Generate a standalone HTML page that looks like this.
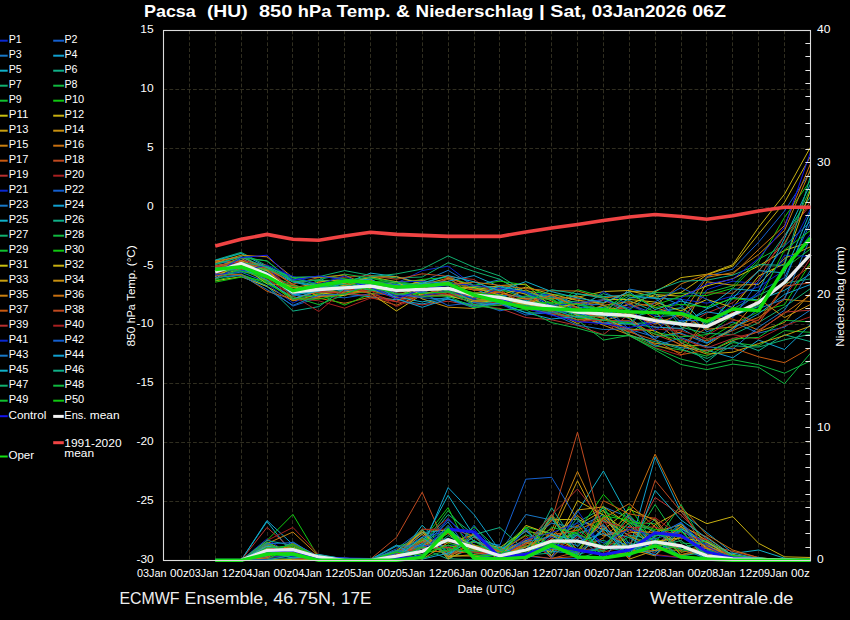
<!DOCTYPE html>
<html><head><meta charset="utf-8"><style>html,body{margin:0;padding:0;background:#000;width:850px;height:620px;overflow:hidden}</style></head>
<body>
<svg width="850" height="620" viewBox="0 0 850 620" style="display:block;font-family:'Liberation Sans', sans-serif">
<rect x="0" y="0" width="850" height="620" fill="#000"/>
<path d="M189.50,30.50 L189.50,560.30 M215.50,30.50 L215.50,560.30 M241.50,30.50 L241.50,560.30 M267.50,30.50 L267.50,560.30 M292.50,30.50 L292.50,560.30 M318.50,30.50 L318.50,560.30 M344.50,30.50 L344.50,560.30 M370.50,30.50 L370.50,560.30 M396.50,30.50 L396.50,560.30 M422.50,30.50 L422.50,560.30 M448.50,30.50 L448.50,560.30 M474.50,30.50 L474.50,560.30 M499.50,30.50 L499.50,560.30 M525.50,30.50 L525.50,560.30 M551.50,30.50 L551.50,560.30 M577.50,30.50 L577.50,560.30 M603.50,30.50 L603.50,560.30 M629.50,30.50 L629.50,560.30 M655.50,30.50 L655.50,560.30 M681.50,30.50 L681.50,560.30 M706.50,30.50 L706.50,560.30 M732.50,30.50 L732.50,560.30 M758.50,30.50 L758.50,560.30 M784.50,30.50 L784.50,560.30 M163.50,89.50 L810.38,89.50 M163.50,148.50 L810.38,148.50 M163.50,207.50 L810.38,207.50 M163.50,266.50 L810.38,266.50 M163.50,324.50 L810.38,324.50 M163.50,383.50 L810.38,383.50 M163.50,442.50 L810.38,442.50 M163.50,501.50 L810.38,501.50" stroke="#302e20" stroke-width="1" stroke-dasharray="3.8 2.1" fill="none"/>
<path d="M215.2,260.2 L241.1,256.9 L267.0,268.1 L292.9,290.4 L318.8,287.5 L344.6,288.2 L370.5,282.6 L396.4,283.2 L422.2,270.6 L448.1,266.1 L474.0,285.9 L499.9,294.3 L525.8,306.0 L551.6,310.5 L577.5,314.0 L603.4,299.4 L629.2,313.4 L655.1,324.0 L681.0,320.7 L706.9,289.7 L732.8,281.1 L758.6,283.8 L784.5,260.2 L810.4,209.2" stroke="#0a28d0" stroke-width="1" fill="none"/>
<path d="M215.2,277.9 L241.1,274.6 L267.0,286.7 L292.9,306.1 L318.8,297.6 L344.6,281.2 L370.5,279.5 L396.4,296.2 L422.2,292.5 L448.1,295.3 L474.0,302.2 L499.9,310.8 L525.8,306.1 L551.6,306.7 L577.5,314.5 L603.4,315.8 L629.2,304.2 L655.1,313.8 L681.0,307.8 L706.9,276.4 L732.8,269.1 L758.6,242.2 L784.5,211.0 L810.4,171.4" stroke="#1560d0" stroke-width="1" fill="none"/>
<path d="M215.2,263.2 L241.1,261.9 L267.0,271.3 L292.9,295.2 L318.8,296.5 L344.6,294.2 L370.5,289.8 L396.4,289.7 L422.2,281.5 L448.1,270.4 L474.0,285.7 L499.9,279.7 L525.8,292.6 L551.6,309.0 L577.5,317.8 L603.4,314.1 L629.2,289.0 L655.1,293.9 L681.0,305.4 L706.9,331.8 L732.8,321.9 L758.6,333.1 L784.5,327.1 L810.4,310.0" stroke="#1878c8" stroke-width="1" fill="none"/>
<path d="M215.2,267.4 L241.1,268.9 L267.0,266.8 L292.9,277.2 L318.8,277.0 L344.6,294.1 L370.5,296.8 L396.4,299.8 L422.2,304.0 L448.1,298.5 L474.0,305.3 L499.9,303.6 L525.8,312.8 L551.6,313.1 L577.5,307.3 L603.4,307.6 L629.2,318.6 L655.1,339.9 L681.0,347.7 L706.9,350.2 L732.8,357.8 L758.6,340.1 L784.5,349.5 L810.4,324.6" stroke="#10a0d0" stroke-width="1" fill="none"/>
<path d="M215.2,271.2 L241.1,258.6 L267.0,269.6 L292.9,282.0 L318.8,287.7 L344.6,283.5 L370.5,273.1 L396.4,276.6 L422.2,283.6 L448.1,275.7 L474.0,289.1 L499.9,298.2 L525.8,300.4 L551.6,307.7 L577.5,315.2 L603.4,323.9 L629.2,323.8 L655.1,322.3 L681.0,324.9 L706.9,308.9 L732.8,297.6 L758.6,299.9 L784.5,290.3 L810.4,274.0" stroke="#10b0c8" stroke-width="1" fill="none"/>
<path d="M215.2,266.4 L241.1,260.3 L267.0,277.2 L292.9,292.9 L318.8,292.8 L344.6,290.2 L370.5,281.0 L396.4,289.2 L422.2,283.4 L448.1,290.9 L474.0,286.3 L499.9,286.7 L525.8,292.4 L551.6,298.8 L577.5,316.2 L603.4,316.1 L629.2,333.1 L655.1,316.7 L681.0,315.0 L706.9,330.1 L732.8,293.8 L758.6,271.2 L784.5,235.5 L810.4,196.8" stroke="#10b088" stroke-width="1" fill="none"/>
<path d="M215.2,260.0 L241.1,252.3 L267.0,265.8 L292.9,279.5 L318.8,276.7 L344.6,270.6 L370.5,275.4 L396.4,277.9 L422.2,277.0 L448.1,262.7 L474.0,271.4 L499.9,279.3 L525.8,294.5 L551.6,302.8 L577.5,301.1 L603.4,315.4 L629.2,317.5 L655.1,311.6 L681.0,307.7 L706.9,324.3 L732.8,308.9 L758.6,295.2 L784.5,283.2 L810.4,278.9" stroke="#10b070" stroke-width="1" fill="none"/>
<path d="M215.2,274.4 L241.1,271.4 L267.0,275.9 L292.9,284.1 L318.8,294.2 L344.6,287.3 L370.5,284.2 L396.4,285.6 L422.2,282.2 L448.1,281.9 L474.0,287.6 L499.9,288.8 L525.8,299.0 L551.6,304.8 L577.5,310.3 L603.4,313.3 L629.2,298.3 L655.1,292.5 L681.0,293.3 L706.9,292.9 L732.8,285.8 L758.6,259.2 L784.5,245.4 L810.4,188.5" stroke="#10b840" stroke-width="1" fill="none"/>
<path d="M215.2,273.5 L241.1,262.8 L267.0,280.1 L292.9,292.1 L318.8,280.0 L344.6,285.9 L370.5,281.3 L396.4,284.7 L422.2,289.4 L448.1,283.5 L474.0,288.4 L499.9,291.1 L525.8,290.8 L551.6,294.5 L577.5,296.0 L603.4,305.9 L629.2,334.8 L655.1,346.0 L681.0,350.0 L706.9,356.1 L732.8,342.6 L758.6,345.9 L784.5,330.6 L810.4,332.3" stroke="#10c030" stroke-width="1" fill="none"/>
<path d="M215.2,261.0 L241.1,253.5 L267.0,273.0 L292.9,295.5 L318.8,280.7 L344.6,279.8 L370.5,278.1 L396.4,283.9 L422.2,279.4 L448.1,277.4 L474.0,285.3 L499.9,281.2 L525.8,284.9 L551.6,298.7 L577.5,312.7 L603.4,311.8 L629.2,317.2 L655.1,318.3 L681.0,322.5 L706.9,339.6 L732.8,324.3 L758.6,311.8 L784.5,304.7 L810.4,263.0" stroke="#10c810" stroke-width="1" fill="none"/>
<path d="M215.2,280.8 L241.1,276.7 L267.0,286.5 L292.9,300.8 L318.8,294.2 L344.6,291.8 L370.5,290.4 L396.4,288.4 L422.2,280.8 L448.1,295.1 L474.0,295.5 L499.9,303.8 L525.8,307.2 L551.6,311.1 L577.5,323.7 L603.4,311.9 L629.2,304.2 L655.1,294.6 L681.0,296.2 L706.9,285.9 L732.8,278.7 L758.6,266.0 L784.5,250.4 L810.4,241.9" stroke="#c8c010" stroke-width="1" fill="none"/>
<path d="M215.2,276.0 L241.1,269.2 L267.0,280.9 L292.9,298.6 L318.8,290.8 L344.6,285.3 L370.5,276.8 L396.4,281.7 L422.2,280.6 L448.1,285.4 L474.0,290.0 L499.9,285.5 L525.8,284.1 L551.6,306.9 L577.5,297.2 L603.4,291.5 L629.2,290.5 L655.1,297.3 L681.0,292.5 L706.9,274.8 L732.8,266.1 L758.6,234.1 L784.5,202.4 L810.4,156.5" stroke="#c8b010" stroke-width="1" fill="none"/>
<path d="M215.2,266.1 L241.1,260.8 L267.0,273.6 L292.9,291.6 L318.8,284.7 L344.6,283.3 L370.5,277.3 L396.4,276.6 L422.2,284.5 L448.1,278.3 L474.0,285.9 L499.9,288.2 L525.8,294.2 L551.6,309.6 L577.5,312.8 L603.4,305.5 L629.2,317.9 L655.1,336.9 L681.0,332.2 L706.9,281.8 L732.8,285.2 L758.6,284.4 L784.5,258.4 L810.4,246.8" stroke="#c8a010" stroke-width="1" fill="none"/>
<path d="M215.2,276.7 L241.1,261.7 L267.0,277.7 L292.9,287.8 L318.8,283.1 L344.6,284.2 L370.5,281.7 L396.4,285.0 L422.2,298.9 L448.1,307.2 L474.0,308.5 L499.9,299.6 L525.8,302.1 L551.6,312.1 L577.5,319.7 L603.4,320.6 L629.2,313.9 L655.1,321.1 L681.0,343.1 L706.9,352.5 L732.8,340.6 L758.6,331.6 L784.5,322.4 L810.4,293.1" stroke="#c89010" stroke-width="1" fill="none"/>
<path d="M215.2,267.9 L241.1,257.6 L267.0,278.1 L292.9,287.4 L318.8,291.8 L344.6,292.3 L370.5,285.1 L396.4,299.5 L422.2,297.1 L448.1,287.7 L474.0,292.7 L499.9,292.7 L525.8,298.5 L551.6,308.9 L577.5,302.4 L603.4,305.0 L629.2,314.9 L655.1,323.9 L681.0,314.3 L706.9,329.3 L732.8,327.0 L758.6,317.4 L784.5,299.5 L810.4,301.5" stroke="#c88010" stroke-width="1" fill="none"/>
<path d="M215.2,273.0 L241.1,268.7 L267.0,281.2 L292.9,300.6 L318.8,298.2 L344.6,303.3 L370.5,297.0 L396.4,305.3 L422.2,294.2 L448.1,277.3 L474.0,297.1 L499.9,298.8 L525.8,308.7 L551.6,314.2 L577.5,316.2 L603.4,316.9 L629.2,330.5 L655.1,344.7 L681.0,352.9 L706.9,317.7 L732.8,319.0 L758.6,330.3 L784.5,313.3 L810.4,295.1" stroke="#c87010" stroke-width="1" fill="none"/>
<path d="M215.2,275.7 L241.1,264.6 L267.0,274.7 L292.9,290.4 L318.8,287.9 L344.6,293.9 L370.5,291.1 L396.4,289.9 L422.2,288.3 L448.1,279.2 L474.0,290.3 L499.9,289.5 L525.8,307.5 L551.6,307.4 L577.5,311.4 L603.4,318.6 L629.2,302.7 L655.1,318.6 L681.0,334.4 L706.9,340.9 L732.8,330.6 L758.6,319.9 L784.5,285.9 L810.4,265.9" stroke="#c85a10" stroke-width="1" fill="none"/>
<path d="M215.2,261.6 L241.1,261.3 L267.0,267.1 L292.9,284.1 L318.8,277.5 L344.6,277.2 L370.5,275.6 L396.4,279.3 L422.2,273.8 L448.1,276.3 L474.0,289.8 L499.9,291.9 L525.8,299.6 L551.6,297.8 L577.5,298.8 L603.4,311.4 L629.2,307.1 L655.1,303.2 L681.0,318.2 L706.9,292.9 L732.8,293.3 L758.6,270.8 L784.5,242.9 L810.4,201.2" stroke="#c04a20" stroke-width="1" fill="none"/>
<path d="M215.2,274.7 L241.1,260.2 L267.0,265.4 L292.9,291.8 L318.8,282.2 L344.6,291.8 L370.5,279.5 L396.4,292.9 L422.2,294.0 L448.1,292.5 L474.0,301.0 L499.9,305.6 L525.8,302.6 L551.6,310.1 L577.5,303.6 L603.4,300.2 L629.2,310.7 L655.1,327.1 L681.0,329.2 L706.9,313.0 L732.8,302.7 L758.6,279.5 L784.5,235.7 L810.4,205.4" stroke="#b83030" stroke-width="1" fill="none"/>
<path d="M215.2,279.1 L241.1,269.6 L267.0,277.5 L292.9,298.6 L318.8,300.8 L344.6,308.2 L370.5,298.1 L396.4,301.6 L422.2,293.8 L448.1,276.6 L474.0,279.5 L499.9,297.0 L525.8,306.7 L551.6,302.0 L577.5,308.6 L603.4,318.3 L629.2,335.7 L655.1,347.7 L681.0,355.5 L706.9,335.5 L732.8,320.4 L758.6,320.2 L784.5,297.7 L810.4,258.5" stroke="#a82020" stroke-width="1" fill="none"/>
<path d="M215.2,278.7 L241.1,264.9 L267.0,283.8 L292.9,303.1 L318.8,290.3 L344.6,280.8 L370.5,286.7 L396.4,281.9 L422.2,281.3 L448.1,283.3 L474.0,285.3 L499.9,288.8 L525.8,292.8 L551.6,295.2 L577.5,311.6 L603.4,291.4 L629.2,305.2 L655.1,315.8 L681.0,299.3 L706.9,303.2 L732.8,296.1 L758.6,286.8 L784.5,270.3 L810.4,234.2" stroke="#0a28d0" stroke-width="1" fill="none"/>
<path d="M215.2,268.6 L241.1,262.4 L267.0,274.2 L292.9,295.1 L318.8,295.8 L344.6,297.8 L370.5,293.7 L396.4,294.7 L422.2,291.8 L448.1,286.9 L474.0,299.9 L499.9,301.8 L525.8,308.8 L551.6,312.7 L577.5,321.5 L603.4,322.9 L629.2,321.3 L655.1,339.4 L681.0,320.3 L706.9,320.5 L732.8,313.7 L758.6,291.8 L784.5,277.7 L810.4,223.3" stroke="#1560d0" stroke-width="1" fill="none"/>
<path d="M215.2,275.9 L241.1,272.1 L267.0,282.1 L292.9,297.0 L318.8,285.7 L344.6,290.1 L370.5,286.0 L396.4,284.4 L422.2,290.0 L448.1,291.3 L474.0,298.2 L499.9,295.3 L525.8,296.4 L551.6,294.9 L577.5,304.9 L603.4,304.5 L629.2,329.3 L655.1,337.0 L681.0,333.2 L706.9,343.4 L732.8,329.8 L758.6,308.6 L784.5,299.0 L810.4,237.7" stroke="#1878c8" stroke-width="1" fill="none"/>
<path d="M215.2,260.5 L241.1,253.3 L267.0,267.2 L292.9,281.5 L318.8,286.7 L344.6,290.9 L370.5,287.4 L396.4,284.4 L422.2,284.2 L448.1,281.3 L474.0,275.6 L499.9,286.7 L525.8,298.2 L551.6,296.2 L577.5,312.0 L603.4,323.1 L629.2,323.8 L655.1,327.1 L681.0,328.4 L706.9,342.7 L732.8,328.2 L758.6,313.7 L784.5,294.4 L810.4,284.5" stroke="#10a0d0" stroke-width="1" fill="none"/>
<path d="M215.2,269.7 L241.1,262.8 L267.0,273.2 L292.9,291.7 L318.8,284.1 L344.6,286.8 L370.5,289.4 L396.4,297.0 L422.2,301.9 L448.1,297.4 L474.0,296.3 L499.9,285.9 L525.8,291.8 L551.6,306.8 L577.5,293.9 L603.4,296.5 L629.2,295.1 L655.1,298.5 L681.0,299.0 L706.9,326.9 L732.8,298.4 L758.6,270.6 L784.5,272.9 L810.4,211.8" stroke="#10b0c8" stroke-width="1" fill="none"/>
<path d="M215.2,273.9 L241.1,274.2 L267.0,285.8 L292.9,311.1 L318.8,306.6 L344.6,288.5 L370.5,286.2 L396.4,294.5 L422.2,292.4 L448.1,292.3 L474.0,300.9 L499.9,295.6 L525.8,302.0 L551.6,303.9 L577.5,306.8 L603.4,293.7 L629.2,300.5 L655.1,311.7 L681.0,341.9 L706.9,362.1 L732.8,341.0 L758.6,350.7 L784.5,334.7 L810.4,341.6" stroke="#10b088" stroke-width="1" fill="none"/>
<path d="M215.2,263.5 L241.1,256.8 L267.0,261.1 L292.9,281.3 L318.8,280.3 L344.6,280.8 L370.5,276.7 L396.4,273.9 L422.2,269.0 L448.1,255.9 L474.0,267.3 L499.9,276.0 L525.8,292.3 L551.6,297.7 L577.5,304.8 L603.4,310.5 L629.2,295.9 L655.1,293.5 L681.0,327.2 L706.9,333.4 L732.8,334.5 L758.6,322.5 L784.5,306.9 L810.4,288.6" stroke="#10b070" stroke-width="1" fill="none"/>
<path d="M215.2,270.3 L241.1,257.8 L267.0,260.8 L292.9,281.8 L318.8,279.6 L344.6,274.1 L370.5,278.0 L396.4,282.0 L422.2,287.6 L448.1,296.7 L474.0,298.5 L499.9,302.9 L525.8,306.2 L551.6,312.1 L577.5,320.0 L603.4,340.1 L629.2,335.3 L655.1,350.0 L681.0,364.5 L706.9,369.6 L732.8,364.1 L758.6,367.3 L784.5,383.7 L810.4,353.3" stroke="#10b840" stroke-width="1" fill="none"/>
<path d="M215.2,280.4 L241.1,274.5 L267.0,283.4 L292.9,296.8 L318.8,304.6 L344.6,294.9 L370.5,291.0 L396.4,290.2 L422.2,286.4 L448.1,287.7 L474.0,292.8 L499.9,296.7 L525.8,303.0 L551.6,306.6 L577.5,289.7 L603.4,296.5 L629.2,311.1 L655.1,332.4 L681.0,336.8 L706.9,334.6 L732.8,315.4 L758.6,305.1 L784.5,268.4 L810.4,249.0" stroke="#10c030" stroke-width="1" fill="none"/>
<path d="M215.2,282.2 L241.1,277.1 L267.0,281.0 L292.9,298.7 L318.8,294.6 L344.6,305.1 L370.5,293.9 L396.4,290.1 L422.2,286.2 L448.1,289.3 L474.0,295.0 L499.9,299.2 L525.8,304.7 L551.6,303.1 L577.5,318.0 L603.4,320.0 L629.2,322.7 L655.1,305.1 L681.0,296.1 L706.9,295.5 L732.8,288.2 L758.6,261.9 L784.5,217.4 L810.4,180.7" stroke="#10c810" stroke-width="1" fill="none"/>
<path d="M215.2,276.3 L241.1,264.7 L267.0,283.8 L292.9,285.6 L318.8,296.5 L344.6,295.4 L370.5,288.4 L396.4,281.5 L422.2,295.9 L448.1,295.7 L474.0,302.1 L499.9,300.9 L525.8,304.6 L551.6,309.1 L577.5,303.1 L603.4,299.7 L629.2,299.4 L655.1,302.1 L681.0,310.8 L706.9,299.5 L732.8,307.4 L758.6,276.0 L784.5,263.7 L810.4,190.2" stroke="#c8c010" stroke-width="1" fill="none"/>
<path d="M215.2,278.9 L241.1,260.6 L267.0,270.8 L292.9,289.5 L318.8,284.8 L344.6,288.7 L370.5,293.1 L396.4,311.0 L422.2,294.5 L448.1,287.9 L474.0,287.5 L499.9,295.2 L525.8,287.1 L551.6,294.2 L577.5,300.4 L603.4,303.3 L629.2,291.7 L655.1,291.8 L681.0,277.6 L706.9,274.3 L732.8,264.7 L758.6,227.3 L784.5,194.2 L810.4,147.3" stroke="#c8b010" stroke-width="1" fill="none"/>
<path d="M215.2,265.1 L241.1,265.3 L267.0,269.7 L292.9,294.6 L318.8,281.9 L344.6,279.3 L370.5,285.3 L396.4,285.3 L422.2,286.9 L448.1,283.4 L474.0,295.8 L499.9,300.8 L525.8,304.4 L551.6,295.1 L577.5,307.5 L603.4,318.2 L629.2,329.0 L655.1,330.7 L681.0,345.3 L706.9,354.1 L732.8,352.2 L758.6,343.6 L784.5,335.5 L810.4,326.2" stroke="#c8a010" stroke-width="1" fill="none"/>
<path d="M215.2,262.8 L241.1,255.2 L267.0,256.8 L292.9,277.6 L318.8,277.3 L344.6,275.0 L370.5,286.8 L396.4,295.8 L422.2,286.6 L448.1,281.9 L474.0,298.4 L499.9,301.0 L525.8,289.8 L551.6,301.0 L577.5,315.2 L603.4,325.2 L629.2,334.8 L655.1,343.3 L681.0,345.7 L706.9,345.5 L732.8,328.3 L758.6,298.5 L784.5,317.6 L810.4,304.5" stroke="#c89010" stroke-width="1" fill="none"/>
<path d="M215.2,261.0 L241.1,256.8 L267.0,269.2 L292.9,298.9 L318.8,291.4 L344.6,285.8 L370.5,279.8 L396.4,294.6 L422.2,296.4 L448.1,290.5 L474.0,300.7 L499.9,300.7 L525.8,298.2 L551.6,299.0 L577.5,296.2 L603.4,305.3 L629.2,301.7 L655.1,307.4 L681.0,315.9 L706.9,277.4 L732.8,272.6 L758.6,254.4 L784.5,230.5 L810.4,169.9" stroke="#c88010" stroke-width="1" fill="none"/>
<path d="M215.2,273.8 L241.1,262.3 L267.0,268.0 L292.9,284.5 L318.8,295.8 L344.6,293.7 L370.5,287.2 L396.4,288.4 L422.2,286.9 L448.1,284.8 L474.0,282.1 L499.9,285.4 L525.8,288.6 L551.6,290.8 L577.5,291.0 L603.4,298.2 L629.2,294.6 L655.1,305.8 L681.0,283.9 L706.9,274.5 L732.8,274.4 L758.6,249.5 L784.5,225.6 L810.4,163.9" stroke="#c87010" stroke-width="1" fill="none"/>
<path d="M215.2,275.5 L241.1,274.3 L267.0,291.3 L292.9,299.3 L318.8,297.2 L344.6,294.2 L370.5,290.5 L396.4,297.8 L422.2,296.0 L448.1,294.9 L474.0,295.5 L499.9,292.0 L525.8,302.8 L551.6,295.2 L577.5,307.6 L603.4,323.0 L629.2,331.9 L655.1,340.2 L681.0,354.7 L706.9,350.1 L732.8,348.0 L758.6,356.8 L784.5,362.7 L810.4,347.9" stroke="#c85a10" stroke-width="1" fill="none"/>
<path d="M215.2,266.7 L241.1,264.9 L267.0,278.0 L292.9,285.0 L318.8,292.7 L344.6,287.3 L370.5,293.5 L396.4,301.5 L422.2,288.7 L448.1,294.8 L474.0,293.0 L499.9,299.1 L525.8,306.7 L551.6,310.7 L577.5,319.7 L603.4,320.6 L629.2,320.7 L655.1,334.4 L681.0,344.4 L706.9,327.8 L732.8,312.0 L758.6,323.8 L784.5,286.1 L810.4,282.9" stroke="#c04a20" stroke-width="1" fill="none"/>
<path d="M215.2,266.0 L241.1,262.0 L267.0,268.4 L292.9,292.6 L318.8,291.6 L344.6,293.4 L370.5,295.6 L396.4,301.8 L422.2,304.9 L448.1,301.2 L474.0,305.7 L499.9,308.4 L525.8,317.6 L551.6,319.8 L577.5,325.5 L603.4,334.7 L629.2,314.1 L655.1,310.7 L681.0,338.9 L706.9,347.9 L732.8,338.4 L758.6,331.6 L784.5,312.1 L810.4,310.1" stroke="#b83030" stroke-width="1" fill="none"/>
<path d="M215.2,273.7 L241.1,265.7 L267.0,278.9 L292.9,295.5 L318.8,311.5 L344.6,289.7 L370.5,290.5 L396.4,306.6 L422.2,295.2 L448.1,293.0 L474.0,304.2 L499.9,301.8 L525.8,309.0 L551.6,313.0 L577.5,321.9 L603.4,319.2 L629.2,330.9 L655.1,329.1 L681.0,330.8 L706.9,339.0 L732.8,334.6 L758.6,339.0 L784.5,325.8 L810.4,316.8" stroke="#a82020" stroke-width="1" fill="none"/>
<path d="M215.2,275.1 L241.1,271.0 L267.0,265.1 L292.9,276.4 L318.8,284.3 L344.6,275.9 L370.5,287.2 L396.4,295.7 L422.2,296.2 L448.1,290.5 L474.0,298.9 L499.9,288.0 L525.8,292.0 L551.6,305.6 L577.5,302.6 L603.4,299.8 L629.2,308.1 L655.1,330.8 L681.0,311.2 L706.9,321.8 L732.8,305.7 L758.6,294.5 L784.5,255.2 L810.4,256.4" stroke="#0a28d0" stroke-width="1" fill="none"/>
<path d="M215.2,268.5 L241.1,270.6 L267.0,274.5 L292.9,294.2 L318.8,290.8 L344.6,288.6 L370.5,282.0 L396.4,284.6 L422.2,292.8 L448.1,305.5 L474.0,302.6 L499.9,303.9 L525.8,315.0 L551.6,312.2 L577.5,311.6 L603.4,314.2 L629.2,324.8 L655.1,301.8 L681.0,287.7 L706.9,299.3 L732.8,317.8 L758.6,281.4 L784.5,245.9 L810.4,221.8" stroke="#1560d0" stroke-width="1" fill="none"/>
<path d="M215.2,277.3 L241.1,275.5 L267.0,289.5 L292.9,305.3 L318.8,295.2 L344.6,294.2 L370.5,283.4 L396.4,293.7 L422.2,297.8 L448.1,299.1 L474.0,307.9 L499.9,303.1 L525.8,307.6 L551.6,314.2 L577.5,325.1 L603.4,329.5 L629.2,328.8 L655.1,346.2 L681.0,337.6 L706.9,346.9 L732.8,348.8 L758.6,327.2 L784.5,310.2 L810.4,270.5" stroke="#1878c8" stroke-width="1" fill="none"/>
<path d="M215.2,271.7 L241.1,268.0 L267.0,280.0 L292.9,299.2 L318.8,290.0 L344.6,288.4 L370.5,281.1 L396.4,298.7 L422.2,307.3 L448.1,298.9 L474.0,306.4 L499.9,302.6 L525.8,312.7 L551.6,319.0 L577.5,316.4 L603.4,320.0 L629.2,297.8 L655.1,297.7 L681.0,322.4 L706.9,311.9 L732.8,315.8 L758.6,306.5 L784.5,281.5 L810.4,217.4" stroke="#10a0d0" stroke-width="1" fill="none"/>
<path d="M215.2,269.4 L241.1,267.2 L267.0,274.3 L292.9,294.9 L318.8,291.2 L344.6,282.2 L370.5,278.9 L396.4,292.1 L422.2,283.0 L448.1,275.6 L474.0,281.8 L499.9,290.9 L525.8,281.6 L551.6,291.6 L577.5,298.1 L603.4,302.4 L629.2,291.9 L655.1,309.6 L681.0,301.0 L706.9,308.0 L732.8,288.9 L758.6,290.9 L784.5,238.6 L810.4,184.1" stroke="#10b0c8" stroke-width="1" fill="none"/>
<path d="M215.2,264.6 L241.1,256.8 L267.0,267.7 L292.9,280.4 L318.8,285.9 L344.6,286.9 L370.5,285.7 L396.4,289.2 L422.2,290.5 L448.1,283.9 L474.0,304.7 L499.9,300.2 L525.8,301.9 L551.6,289.7 L577.5,293.8 L603.4,298.1 L629.2,309.7 L655.1,290.7 L681.0,281.2 L706.9,280.2 L732.8,275.1 L758.6,264.6 L784.5,265.3 L810.4,176.3" stroke="#10b088" stroke-width="1" fill="none"/>
<path d="M215.2,271.1 L241.1,262.5 L267.0,266.5 L292.9,277.8 L318.8,285.1 L344.6,284.5 L370.5,290.4 L396.4,289.0 L422.2,288.8 L448.1,288.4 L474.0,293.6 L499.9,302.6 L525.8,305.4 L551.6,309.4 L577.5,317.6 L603.4,315.5 L629.2,335.7 L655.1,341.6 L681.0,348.9 L706.9,358.5 L732.8,345.8 L758.6,347.1 L784.5,339.8 L810.4,334.2" stroke="#10b070" stroke-width="1" fill="none"/>
<path d="M215.2,279.6 L241.1,268.8 L267.0,269.1 L292.9,277.8 L318.8,276.5 L344.6,278.8 L370.5,281.3 L396.4,282.4 L422.2,285.4 L448.1,291.0 L474.0,304.9 L499.9,309.4 L525.8,309.8 L551.6,322.6 L577.5,328.2 L603.4,335.2 L629.2,335.8 L655.1,348.4 L681.0,359.1 L706.9,365.2 L732.8,359.7 L758.6,364.7 L784.5,373.2 L810.4,360.9" stroke="#10b840" stroke-width="1" fill="none"/>
<path d="M215.2,270.6 L241.1,271.1 L267.0,278.0 L292.9,286.2 L318.8,289.9 L344.6,281.7 L370.5,289.6 L396.4,289.8 L422.2,296.2 L448.1,296.0 L474.0,307.7 L499.9,304.9 L525.8,295.8 L551.6,299.8 L577.5,314.6 L603.4,320.3 L629.2,323.5 L655.1,334.0 L681.0,340.1 L706.9,353.0 L732.8,339.1 L758.6,337.4 L784.5,320.3 L810.4,321.9" stroke="#10c030" stroke-width="1" fill="none"/>
<path d="M215.2,272.0 L241.1,263.7 L267.0,283.0 L292.9,298.8 L318.8,299.2 L344.6,293.7 L370.5,286.2 L396.4,294.1 L422.2,293.4 L448.1,291.8 L474.0,292.9 L499.9,295.3 L525.8,303.7 L551.6,302.4 L577.5,304.3 L603.4,308.9 L629.2,293.7 L655.1,307.4 L681.0,304.3 L706.9,306.9 L732.8,298.6 L758.6,300.9 L784.5,249.9 L810.4,230.5" stroke="#10c810" stroke-width="1" fill="none"/>
<path d="M215.2,560.3 L241.1,560.3 L267.0,538.9 L292.9,556.9 L318.8,557.5 L344.6,559.6 L370.5,560.0 L396.4,558.2 L422.2,532.1 L448.1,553.2 L474.0,528.9 L499.9,558.4 L525.8,555.0 L551.6,536.8 L577.5,535.7 L603.4,547.5 L629.2,542.3 L655.1,555.3 L681.0,557.7 L706.9,546.0 L732.8,559.6 L758.6,558.4 L784.5,560.3 L810.4,560.3" stroke="#0a28d0" stroke-width="1" fill="none"/>
<path d="M215.2,560.3 L241.1,560.3 L267.0,545.7 L292.9,559.0 L318.8,559.4 L344.6,559.7 L370.5,560.1 L396.4,548.9 L422.2,529.7 L448.1,559.0 L474.0,525.2 L499.9,558.0 L525.8,556.0 L551.6,558.7 L577.5,558.6 L603.4,526.0 L629.2,550.2 L655.1,541.1 L681.0,549.0 L706.9,558.5 L732.8,559.0 L758.6,558.4 L784.5,560.3 L810.4,560.3" stroke="#1560d0" stroke-width="1" fill="none"/>
<path d="M215.2,560.3 L241.1,560.3 L267.0,555.6 L292.9,550.3 L318.8,558.2 L344.6,559.1 L370.5,559.0 L396.4,560.3 L422.2,544.9 L448.1,538.2 L474.0,551.2 L499.9,552.4 L525.8,514.5 L551.6,520.0 L577.5,540.0 L603.4,506.9 L629.2,517.5 L655.1,532.5 L681.0,546.8 L706.9,559.3 L732.8,555.1 L758.6,559.1 L784.5,560.3 L810.4,560.3" stroke="#1878c8" stroke-width="1" fill="none"/>
<path d="M215.2,560.3 L241.1,560.3 L267.0,520.5 L292.9,544.6 L318.8,556.9 L344.6,559.8 L370.5,560.0 L396.4,552.2 L422.2,532.7 L448.1,530.0 L474.0,546.7 L499.9,549.5 L525.8,549.8 L551.6,541.4 L577.5,533.3 L603.4,525.6 L629.2,550.1 L655.1,457.1 L681.0,512.0 L706.9,532.7 L732.8,553.0 L758.6,558.7 L784.5,560.3 L810.4,560.3" stroke="#10a0d0" stroke-width="1" fill="none"/>
<path d="M215.2,560.3 L241.1,560.3 L267.0,521.5 L292.9,554.4 L318.8,557.4 L344.6,558.9 L370.5,559.9 L396.4,559.9 L422.2,525.2 L448.1,552.8 L474.0,550.0 L499.9,551.0 L525.8,528.7 L551.6,556.7 L577.5,511.7 L603.4,471.0 L629.2,518.1 L655.1,547.3 L681.0,522.7 L706.9,548.5 L732.8,553.5 L758.6,550.0 L784.5,558.2 L810.4,560.3" stroke="#10b0c8" stroke-width="1" fill="none"/>
<path d="M215.2,560.3 L241.1,560.3 L267.0,559.8 L292.9,558.4 L318.8,556.2 L344.6,558.1 L370.5,560.2 L396.4,552.3 L422.2,546.9 L448.1,514.5 L474.0,534.6 L499.9,527.5 L525.8,551.0 L551.6,545.8 L577.5,522.2 L603.4,508.0 L629.2,543.8 L655.1,519.2 L681.0,549.8 L706.9,550.6 L732.8,555.6 L758.6,558.1 L784.5,560.3 L810.4,560.3" stroke="#10b088" stroke-width="1" fill="none"/>
<path d="M215.2,560.3 L241.1,560.3 L267.0,543.2 L292.9,557.8 L318.8,558.8 L344.6,559.4 L370.5,558.8 L396.4,555.8 L422.2,534.1 L448.1,558.7 L474.0,559.8 L499.9,550.3 L525.8,556.5 L551.6,514.6 L577.5,543.2 L603.4,540.5 L629.2,548.6 L655.1,545.6 L681.0,526.4 L706.9,557.9 L732.8,557.5 L758.6,558.5 L784.5,560.3 L810.4,560.3" stroke="#10b070" stroke-width="1" fill="none"/>
<path d="M215.2,560.3 L241.1,560.3 L267.0,555.0 L292.9,551.1 L318.8,556.5 L344.6,559.2 L370.5,559.7 L396.4,553.3 L422.2,548.0 L448.1,548.2 L474.0,553.0 L499.9,556.1 L525.8,558.0 L551.6,543.3 L577.5,534.6 L603.4,542.8 L629.2,546.2 L655.1,504.5 L681.0,543.0 L706.9,544.8 L732.8,559.7 L758.6,558.6 L784.5,560.3 L810.4,560.3" stroke="#10b840" stroke-width="1" fill="none"/>
<path d="M215.2,560.3 L241.1,560.3 L267.0,551.8 L292.9,550.2 L318.8,557.0 L344.6,558.6 L370.5,560.0 L396.4,557.4 L422.2,539.8 L448.1,554.3 L474.0,526.7 L499.9,551.3 L525.8,534.8 L551.6,543.5 L577.5,554.9 L603.4,511.5 L629.2,522.1 L655.1,523.8 L681.0,554.9 L706.9,548.0 L732.8,559.8 L758.6,558.3 L784.5,560.3 L810.4,560.3" stroke="#10c030" stroke-width="1" fill="none"/>
<path d="M215.2,560.3 L241.1,560.3 L267.0,540.4 L292.9,514.4 L318.8,557.6 L344.6,559.7 L370.5,559.3 L396.4,546.2 L422.2,540.8 L448.1,507.6 L474.0,560.1 L499.9,551.7 L525.8,528.1 L551.6,558.2 L577.5,528.2 L603.4,552.2 L629.2,506.5 L655.1,544.7 L681.0,528.9 L706.9,542.1 L732.8,557.8 L758.6,559.9 L784.5,560.3 L810.4,560.3" stroke="#10c810" stroke-width="1" fill="none"/>
<path d="M215.2,560.3 L241.1,560.3 L267.0,542.4 L292.9,553.9 L318.8,558.0 L344.6,559.9 L370.5,560.2 L396.4,552.3 L422.2,540.5 L448.1,547.5 L474.0,541.8 L499.9,548.0 L525.8,556.3 L551.6,519.7 L577.5,519.3 L603.4,529.7 L629.2,509.1 L655.1,520.4 L681.0,556.0 L706.9,558.6 L732.8,559.2 L758.6,559.4 L784.5,560.3 L810.4,560.3" stroke="#c8c010" stroke-width="1" fill="none"/>
<path d="M215.2,560.3 L241.1,560.3 L267.0,552.2 L292.9,546.9 L318.8,558.2 L344.6,559.4 L370.5,559.6 L396.4,557.3 L422.2,530.5 L448.1,557.4 L474.0,542.0 L499.9,547.5 L525.8,529.8 L551.6,555.6 L577.5,525.7 L603.4,510.2 L629.2,556.2 L655.1,524.7 L681.0,510.6 L706.9,523.7 L732.8,516.6 L758.6,543.3 L784.5,556.8 L810.4,557.5" stroke="#c8b010" stroke-width="1" fill="none"/>
<path d="M215.2,560.3 L241.1,560.3 L267.0,546.4 L292.9,549.1 L318.8,556.6 L344.6,558.8 L370.5,559.3 L396.4,554.4 L422.2,546.1 L448.1,531.8 L474.0,550.1 L499.9,556.0 L525.8,547.1 L551.6,534.7 L577.5,480.8 L603.4,531.0 L629.2,559.2 L655.1,550.2 L681.0,550.2 L706.9,546.0 L732.8,555.0 L758.6,560.2 L784.5,560.3 L810.4,560.3" stroke="#c8a010" stroke-width="1" fill="none"/>
<path d="M215.2,560.3 L241.1,560.3 L267.0,557.6 L292.9,555.2 L318.8,555.0 L344.6,559.2 L370.5,559.4 L396.4,554.5 L422.2,548.2 L448.1,533.4 L474.0,556.9 L499.9,551.3 L525.8,531.1 L551.6,535.8 L577.5,515.5 L603.4,536.0 L629.2,529.7 L655.1,546.1 L681.0,555.4 L706.9,551.1 L732.8,559.3 L758.6,559.1 L784.5,560.3 L810.4,560.3" stroke="#c89010" stroke-width="1" fill="none"/>
<path d="M215.2,560.3 L241.1,560.3 L267.0,543.6 L292.9,532.0 L318.8,556.1 L344.6,560.1 L370.5,560.2 L396.4,554.9 L422.2,534.4 L448.1,556.8 L474.0,554.5 L499.9,551.1 L525.8,559.7 L551.6,530.5 L577.5,471.4 L603.4,527.0 L629.2,549.0 L655.1,555.9 L681.0,531.5 L706.9,542.2 L732.8,556.8 L758.6,560.2 L784.5,560.3 L810.4,560.3" stroke="#c88010" stroke-width="1" fill="none"/>
<path d="M215.2,560.3 L241.1,560.3 L267.0,554.4 L292.9,550.7 L318.8,557.5 L344.6,558.2 L370.5,559.9 L396.4,556.4 L422.2,551.3 L448.1,551.6 L474.0,533.3 L499.9,551.8 L525.8,540.8 L551.6,529.2 L577.5,552.3 L603.4,537.8 L629.2,514.5 L655.1,454.1 L681.0,506.5 L706.9,534.8 L732.8,550.0 L758.6,557.7 L784.5,560.3 L810.4,560.3" stroke="#c87010" stroke-width="1" fill="none"/>
<path d="M215.2,560.3 L241.1,560.3 L267.0,551.7 L292.9,549.9 L318.8,558.2 L344.6,559.1 L370.5,559.5 L396.4,556.9 L422.2,556.7 L448.1,528.4 L474.0,535.9 L499.9,551.7 L525.8,555.2 L551.6,539.0 L577.5,525.3 L603.4,550.9 L629.2,517.4 L655.1,544.5 L681.0,527.3 L706.9,536.9 L732.8,555.9 L758.6,560.3 L784.5,560.3 L810.4,560.3" stroke="#c85a10" stroke-width="1" fill="none"/>
<path d="M215.2,560.3 L241.1,560.3 L267.0,556.7 L292.9,543.3 L318.8,556.2 L344.6,560.3 L370.5,559.1 L396.4,537.5 L422.2,492.2 L448.1,550.9 L474.0,537.1 L499.9,555.7 L525.8,555.2 L551.6,558.6 L577.5,551.8 L603.4,519.7 L629.2,559.2 L655.1,480.3 L681.0,511.6 L706.9,544.8 L732.8,551.4 L758.6,557.5 L784.5,560.3 L810.4,560.3" stroke="#c04a20" stroke-width="1" fill="none"/>
<path d="M215.2,560.3 L241.1,560.3 L267.0,527.4 L292.9,550.4 L318.8,556.1 L344.6,560.3 L370.5,559.5 L396.4,555.5 L422.2,546.2 L448.1,551.7 L474.0,549.4 L499.9,557.1 L525.8,538.0 L551.6,556.9 L577.5,536.6 L603.4,552.1 L629.2,545.6 L655.1,497.5 L681.0,515.0 L706.9,540.0 L732.8,556.9 L758.6,559.3 L784.5,560.3 L810.4,560.3" stroke="#b83030" stroke-width="1" fill="none"/>
<path d="M215.2,560.3 L241.1,560.3 L267.0,540.6 L292.9,527.4 L318.8,554.6 L344.6,560.3 L370.5,559.2 L396.4,559.5 L422.2,537.6 L448.1,518.5 L474.0,547.1 L499.9,548.2 L525.8,557.8 L551.6,536.8 L577.5,530.4 L603.4,556.2 L629.2,533.2 L655.1,554.5 L681.0,557.5 L706.9,543.5 L732.8,555.2 L758.6,558.7 L784.5,560.3 L810.4,560.3" stroke="#a82020" stroke-width="1" fill="none"/>
<path d="M215.2,560.3 L241.1,560.3 L267.0,557.0 L292.9,556.4 L318.8,557.2 L344.6,558.8 L370.5,559.2 L396.4,556.6 L422.2,550.5 L448.1,527.0 L474.0,556.2 L499.9,558.8 L525.8,529.2 L551.6,558.5 L577.5,510.4 L603.4,548.8 L629.2,548.0 L655.1,544.7 L681.0,528.8 L706.9,549.6 L732.8,556.0 L758.6,560.2 L784.5,560.3 L810.4,560.3" stroke="#0a28d0" stroke-width="1" fill="none"/>
<path d="M215.2,560.3 L241.1,560.3 L267.0,553.1 L292.9,554.6 L318.8,559.0 L344.6,558.5 L370.5,559.7 L396.4,553.4 L422.2,545.6 L448.1,545.7 L474.0,542.4 L499.9,545.0 L525.8,479.2 L551.6,477.3 L577.5,520.0 L603.4,548.0 L629.2,515.4 L655.1,547.2 L681.0,547.3 L706.9,543.5 L732.8,556.3 L758.6,558.6 L784.5,560.3 L810.4,560.3" stroke="#1560d0" stroke-width="1" fill="none"/>
<path d="M215.2,560.3 L241.1,560.3 L267.0,552.4 L292.9,558.0 L318.8,555.3 L344.6,559.9 L370.5,559.7 L396.4,551.9 L422.2,543.9 L448.1,519.7 L474.0,541.2 L499.9,550.5 L525.8,540.4 L551.6,523.2 L577.5,527.6 L603.4,514.5 L629.2,546.1 L655.1,552.3 L681.0,536.3 L706.9,552.7 L732.8,556.5 L758.6,558.8 L784.5,560.3 L810.4,560.3" stroke="#1878c8" stroke-width="1" fill="none"/>
<path d="M215.2,560.3 L241.1,560.3 L267.0,543.1 L292.9,556.1 L318.8,554.4 L344.6,559.1 L370.5,559.4 L396.4,554.8 L422.2,548.4 L448.1,487.6 L474.0,514.6 L499.9,550.8 L525.8,531.1 L551.6,551.4 L577.5,553.3 L603.4,529.8 L629.2,537.5 L655.1,550.9 L681.0,523.4 L706.9,556.4 L732.8,554.6 L758.6,559.6 L784.5,560.3 L810.4,560.3" stroke="#10a0d0" stroke-width="1" fill="none"/>
<path d="M215.2,560.3 L241.1,560.3 L267.0,551.4 L292.9,553.7 L318.8,558.6 L344.6,558.8 L370.5,559.7 L396.4,555.5 L422.2,543.6 L448.1,495.3 L474.0,535.7 L499.9,560.1 L525.8,546.3 L551.6,551.3 L577.5,535.0 L603.4,559.1 L629.2,525.7 L655.1,550.8 L681.0,528.7 L706.9,542.3 L732.8,556.0 L758.6,559.2 L784.5,560.3 L810.4,560.3" stroke="#10b0c8" stroke-width="1" fill="none"/>
<path d="M215.2,560.3 L241.1,560.3 L267.0,540.5 L292.9,545.4 L318.8,559.1 L344.6,559.8 L370.5,560.1 L396.4,559.5 L422.2,548.0 L448.1,559.1 L474.0,546.8 L499.9,549.6 L525.8,559.1 L551.6,507.7 L577.5,546.9 L603.4,520.3 L629.2,535.3 L655.1,539.0 L681.0,555.9 L706.9,552.1 L732.8,559.7 L758.6,559.0 L784.5,560.3 L810.4,560.3" stroke="#10b088" stroke-width="1" fill="none"/>
<path d="M215.2,560.3 L241.1,560.3 L267.0,547.5 L292.9,549.1 L318.8,560.3 L344.6,559.9 L370.5,559.9 L396.4,551.5 L422.2,556.2 L448.1,535.6 L474.0,549.6 L499.9,550.1 L525.8,544.6 L551.6,514.4 L577.5,559.2 L603.4,549.9 L629.2,522.5 L655.1,547.0 L681.0,540.5 L706.9,560.1 L732.8,558.1 L758.6,557.6 L784.5,560.3 L810.4,560.3" stroke="#10b070" stroke-width="1" fill="none"/>
<path d="M215.2,560.3 L241.1,560.3 L267.0,542.1 L292.9,556.9 L318.8,556.7 L344.6,559.8 L370.5,559.7 L396.4,558.0 L422.2,545.7 L448.1,510.6 L474.0,541.4 L499.9,549.2 L525.8,527.1 L551.6,533.4 L577.5,549.0 L603.4,551.2 L629.2,536.8 L655.1,543.3 L681.0,504.5 L706.9,549.3 L732.8,559.9 L758.6,558.5 L784.5,560.3 L810.4,560.3" stroke="#10b840" stroke-width="1" fill="none"/>
<path d="M215.2,560.3 L241.1,560.3 L267.0,559.5 L292.9,545.4 L318.8,558.1 L344.6,560.3 L370.5,558.8 L396.4,559.1 L422.2,540.2 L448.1,531.6 L474.0,544.9 L499.9,550.5 L525.8,558.0 L551.6,517.0 L577.5,554.2 L603.4,505.9 L629.2,551.2 L655.1,536.3 L681.0,529.7 L706.9,560.2 L732.8,557.0 L758.6,559.2 L784.5,560.3 L810.4,560.3" stroke="#10c030" stroke-width="1" fill="none"/>
<path d="M215.2,560.3 L241.1,560.3 L267.0,551.0 L292.9,558.7 L318.8,556.0 L344.6,560.1 L370.5,559.2 L396.4,553.6 L422.2,538.9 L448.1,543.0 L474.0,549.6 L499.9,553.3 L525.8,546.0 L551.6,540.4 L577.5,531.9 L603.4,494.4 L629.2,522.0 L655.1,537.8 L681.0,551.9 L706.9,547.8 L732.8,558.0 L758.6,559.8 L784.5,560.3 L810.4,560.3" stroke="#10c810" stroke-width="1" fill="none"/>
<path d="M215.2,560.3 L241.1,560.3 L267.0,548.2 L292.9,548.0 L318.8,557.0 L344.6,558.5 L370.5,560.3 L396.4,559.8 L422.2,555.8 L448.1,531.2 L474.0,546.9 L499.9,557.1 L525.8,525.4 L551.6,534.5 L577.5,551.0 L603.4,516.5 L629.2,548.3 L655.1,541.5 L681.0,537.8 L706.9,542.1 L732.8,557.6 L758.6,558.6 L784.5,560.3 L810.4,560.3" stroke="#c8c010" stroke-width="1" fill="none"/>
<path d="M215.2,560.3 L241.1,560.3 L267.0,558.9 L292.9,559.6 L318.8,559.8 L344.6,558.6 L370.5,559.1 L396.4,550.6 L422.2,532.4 L448.1,555.9 L474.0,556.0 L499.9,560.1 L525.8,542.9 L551.6,552.4 L577.5,500.7 L603.4,515.0 L629.2,532.4 L655.1,532.1 L681.0,524.7 L706.9,540.6 L732.8,555.1 L758.6,559.5 L784.5,560.3 L810.4,560.3" stroke="#c8b010" stroke-width="1" fill="none"/>
<path d="M215.2,560.3 L241.1,560.3 L267.0,554.9 L292.9,549.0 L318.8,557.4 L344.6,560.2 L370.5,559.8 L396.4,555.1 L422.2,530.2 L448.1,558.9 L474.0,545.5 L499.9,559.4 L525.8,542.4 L551.6,547.7 L577.5,510.0 L603.4,506.9 L629.2,524.5 L655.1,548.1 L681.0,526.0 L706.9,548.6 L732.8,554.7 L758.6,559.0 L784.5,560.3 L810.4,560.3" stroke="#c8a010" stroke-width="1" fill="none"/>
<path d="M215.2,560.3 L241.1,560.3 L267.0,544.8 L292.9,554.6 L318.8,558.0 L344.6,559.4 L370.5,558.9 L396.4,552.2 L422.2,559.3 L448.1,542.6 L474.0,534.8 L499.9,553.7 L525.8,540.6 L551.6,549.7 L577.5,550.2 L603.4,554.2 L629.2,553.3 L655.1,550.4 L681.0,546.3 L706.9,553.6 L732.8,558.2 L758.6,559.3 L784.5,560.3 L810.4,560.3" stroke="#c89010" stroke-width="1" fill="none"/>
<path d="M215.2,560.3 L241.1,560.3 L267.0,556.3 L292.9,544.0 L318.8,557.5 L344.6,558.6 L370.5,559.3 L396.4,556.7 L422.2,529.2 L448.1,530.8 L474.0,549.6 L499.9,551.3 L525.8,555.4 L551.6,515.5 L577.5,550.9 L603.4,518.6 L629.2,535.9 L655.1,547.8 L681.0,537.4 L706.9,546.4 L732.8,556.2 L758.6,559.1 L784.5,560.3 L810.4,560.3" stroke="#c88010" stroke-width="1" fill="none"/>
<path d="M215.2,560.3 L241.1,560.3 L267.0,557.7 L292.9,544.6 L318.8,558.3 L344.6,559.8 L370.5,558.7 L396.4,559.3 L422.2,541.2 L448.1,540.4 L474.0,545.1 L499.9,554.1 L525.8,546.7 L551.6,534.8 L577.5,530.2 L603.4,518.3 L629.2,503.7 L655.1,527.0 L681.0,554.8 L706.9,548.0 L732.8,555.2 L758.6,559.4 L784.5,560.3 L810.4,560.3" stroke="#c87010" stroke-width="1" fill="none"/>
<path d="M215.2,560.3 L241.1,560.3 L267.0,553.5 L292.9,552.2 L318.8,559.2 L344.6,559.7 L370.5,559.1 L396.4,560.0 L422.2,538.5 L448.1,555.5 L474.0,541.4 L499.9,551.2 L525.8,535.8 L551.6,558.2 L577.5,556.4 L603.4,500.7 L629.2,513.9 L655.1,518.4 L681.0,552.4 L706.9,547.2 L732.8,559.9 L758.6,559.0 L784.5,560.3 L810.4,560.3" stroke="#c85a10" stroke-width="1" fill="none"/>
<path d="M215.2,560.3 L241.1,560.3 L267.0,554.2 L292.9,548.3 L318.8,556.3 L344.6,559.1 L370.5,559.6 L396.4,555.9 L422.2,542.1 L448.1,553.9 L474.0,551.4 L499.9,554.0 L525.8,544.7 L551.6,520.8 L577.5,432.2 L603.4,535.0 L629.2,529.6 L655.1,533.3 L681.0,506.5 L706.9,555.7 L732.8,559.6 L758.6,559.1 L784.5,560.3 L810.4,560.3" stroke="#c04a20" stroke-width="1" fill="none"/>
<path d="M215.2,560.3 L241.1,560.3 L267.0,543.5 L292.9,558.7 L318.8,558.7 L344.6,558.4 L370.5,558.9 L396.4,554.3 L422.2,547.9 L448.1,547.4 L474.0,552.3 L499.9,554.3 L525.8,543.7 L551.6,515.0 L577.5,489.0 L603.4,522.0 L629.2,527.6 L655.1,526.9 L681.0,536.9 L706.9,539.4 L732.8,558.8 L758.6,558.4 L784.5,560.3 L810.4,560.3" stroke="#b83030" stroke-width="1" fill="none"/>
<path d="M215.2,560.3 L241.1,560.3 L267.0,549.8 L292.9,544.9 L318.8,560.1 L344.6,560.1 L370.5,560.1 L396.4,553.1 L422.2,529.3 L448.1,529.2 L474.0,560.1 L499.9,558.1 L525.8,557.3 L551.6,540.8 L577.5,549.4 L603.4,548.9 L629.2,532.8 L655.1,517.6 L681.0,537.0 L706.9,551.4 L732.8,558.5 L758.6,559.8 L784.5,560.3 L810.4,560.3" stroke="#a82020" stroke-width="1" fill="none"/>
<path d="M215.2,560.3 L241.1,560.3 L267.0,559.4 L292.9,556.1 L318.8,555.7 L344.6,559.0 L370.5,559.4 L396.4,550.5 L422.2,556.5 L448.1,518.3 L474.0,547.5 L499.9,557.8 L525.8,539.2 L551.6,532.6 L577.5,523.2 L603.4,543.3 L629.2,529.4 L655.1,535.6 L681.0,522.9 L706.9,546.3 L732.8,559.5 L758.6,559.0 L784.5,560.3 L810.4,560.3" stroke="#0a28d0" stroke-width="1" fill="none"/>
<path d="M215.2,560.3 L241.1,560.3 L267.0,543.8 L292.9,542.6 L318.8,556.9 L344.6,559.1 L370.5,559.5 L396.4,553.7 L422.2,537.0 L448.1,531.2 L474.0,555.6 L499.9,553.8 L525.8,556.8 L551.6,548.4 L577.5,552.4 L603.4,547.3 L629.2,546.3 L655.1,538.6 L681.0,531.2 L706.9,557.2 L732.8,557.2 L758.6,558.8 L784.5,560.3 L810.4,560.3" stroke="#1560d0" stroke-width="1" fill="none"/>
<path d="M215.2,560.3 L241.1,560.3 L267.0,555.7 L292.9,541.8 L318.8,557.9 L344.6,558.1 L370.5,560.3 L396.4,546.0 L422.2,546.0 L448.1,521.9 L474.0,558.1 L499.9,554.9 L525.8,541.6 L551.6,536.4 L577.5,545.9 L603.4,524.3 L629.2,556.6 L655.1,536.3 L681.0,522.3 L706.9,555.6 L732.8,557.5 L758.6,558.5 L784.5,560.3 L810.4,560.3" stroke="#1878c8" stroke-width="1" fill="none"/>
<path d="M215.2,560.3 L241.1,560.3 L267.0,550.4 L292.9,558.1 L318.8,556.2 L344.6,560.0 L370.5,559.4 L396.4,545.1 L422.2,559.2 L448.1,553.1 L474.0,540.4 L499.9,555.8 L525.8,556.4 L551.6,533.7 L577.5,541.7 L603.4,533.5 L629.2,547.1 L655.1,554.9 L681.0,529.7 L706.9,560.3 L732.8,560.1 L758.6,557.9 L784.5,560.3 L810.4,560.3" stroke="#10a0d0" stroke-width="1" fill="none"/>
<path d="M215.2,560.3 L241.1,560.3 L267.0,546.1 L292.9,551.6 L318.8,555.6 L344.6,558.5 L370.5,559.3 L396.4,557.8 L422.2,537.3 L448.1,555.3 L474.0,536.6 L499.9,546.6 L525.8,558.8 L551.6,546.9 L577.5,557.7 L603.4,528.0 L629.2,557.1 L655.1,490.4 L681.0,520.0 L706.9,538.0 L732.8,555.4 L758.6,558.9 L784.5,560.3 L810.4,560.3" stroke="#10b0c8" stroke-width="1" fill="none"/>
<path d="M215.2,560.3 L241.1,560.3 L267.0,560.1 L292.9,555.0 L318.8,559.1 L344.6,559.0 L370.5,559.7 L396.4,550.4 L422.2,554.6 L448.1,525.3 L474.0,559.5 L499.9,557.1 L525.8,550.2 L551.6,517.7 L577.5,554.6 L603.4,547.4 L629.2,551.6 L655.1,540.1 L681.0,556.9 L706.9,558.0 L732.8,557.5 L758.6,558.3 L784.5,560.3 L810.4,560.3" stroke="#10b088" stroke-width="1" fill="none"/>
<path d="M215.2,560.3 L241.1,560.3 L267.0,544.0 L292.9,554.5 L318.8,555.1 L344.6,559.3 L370.5,560.2 L396.4,552.0 L422.2,529.7 L448.1,553.0 L474.0,534.8 L499.9,550.4 L525.8,555.1 L551.6,553.0 L577.5,517.2 L603.4,559.4 L629.2,545.4 L655.1,535.4 L681.0,536.1 L706.9,553.3 L732.8,555.6 L758.6,558.0 L784.5,560.3 L810.4,560.3" stroke="#10b070" stroke-width="1" fill="none"/>
<path d="M215.2,560.3 L241.1,560.3 L267.0,547.9 L292.9,545.6 L318.8,557.8 L344.6,560.1 L370.5,560.3 L396.4,551.6 L422.2,558.8 L448.1,549.6 L474.0,551.0 L499.9,552.3 L525.8,550.6 L551.6,543.8 L577.5,540.8 L603.4,545.4 L629.2,522.7 L655.1,530.9 L681.0,547.8 L706.9,540.7 L732.8,556.4 L758.6,560.0 L784.5,560.3 L810.4,560.3" stroke="#10b840" stroke-width="1" fill="none"/>
<path d="M215.2,560.3 L241.1,560.3 L267.0,555.2 L292.9,547.7 L318.8,557.6 L344.6,559.7 L370.5,560.0 L396.4,557.9 L422.2,547.3 L448.1,551.0 L474.0,541.1 L499.9,556.7 L525.8,552.8 L551.6,527.2 L577.5,533.8 L603.4,548.6 L629.2,514.6 L655.1,543.4 L681.0,549.2 L706.9,552.8 L732.8,556.2 L758.6,560.3 L784.5,560.3 L810.4,560.3" stroke="#10c030" stroke-width="1" fill="none"/>
<path d="M215.2,560.3 L241.1,560.3 L267.0,551.7 L292.9,544.0 L318.8,557.4 L344.6,558.9 L370.5,559.4 L396.4,552.4 L422.2,554.7 L448.1,545.1 L474.0,555.5 L499.9,555.2 L525.8,527.5 L551.6,547.0 L577.5,551.6 L603.4,515.9 L629.2,520.1 L655.1,529.6 L681.0,530.9 L706.9,558.3 L732.8,555.4 L758.6,559.8 L784.5,560.3 L810.4,560.3" stroke="#10c810" stroke-width="1" fill="none"/>
<path d="M215.2,273.6 L241.1,257.6 L267.0,255.2 L292.9,280.1 L318.8,275.9 L344.6,279.8 L370.5,287.4 L396.4,298.9 L422.2,289.2 L448.1,285.2 L474.0,294.9 L499.9,298.4 L525.8,308.2 L551.6,315.2 L577.5,321.5 L603.4,323.8 L629.2,327.6 L655.1,322.5 L681.0,297.9 L706.9,284.2 L732.8,279.2 L758.6,258.3 L784.5,227.3 L810.4,152.4" stroke="#1414f0" stroke-width="1" fill="none"/>
<path d="M215.2,560.3 L241.1,560.3 L267.0,551.0 L292.9,550.0 L318.8,558.0 L344.6,559.0 L370.5,559.5 L396.4,558.0 L422.2,557.4 L448.1,529.0 L474.0,532.0 L499.9,557.4 L525.8,554.3 L551.6,545.0 L577.5,550.0 L603.4,554.4 L629.2,550.0 L655.1,532.7 L681.0,535.8 L706.9,551.9 L732.8,558.0 L758.6,559.5 L784.5,560.3 L810.4,560.3" stroke="#1414f0" stroke-width="3" fill="none"/>
<path d="M215.2,272.0 L241.1,263.6 L267.0,274.5 L292.9,292.0 L318.8,289.5 L344.6,287.9 L370.5,286.0 L396.4,290.3 L422.2,289.5 L448.1,288.4 L474.0,295.1 L499.9,297.4 L525.8,302.6 L551.6,306.8 L577.5,312.0 L603.4,314.0 L629.2,315.3 L655.1,320.6 L681.0,324.0 L706.9,326.5 L732.8,314.5 L758.6,302.5 L784.5,282.5 L810.4,254.5" stroke="#f4f4f4" stroke-width="3.3" fill="none" stroke-opacity="0.95"/>
<path d="M241.1,560.3 L267.0,550.4 L292.9,549.6 L318.8,557.0 L344.6,560.3 L370.5,560.3 L396.4,556.2 L422.2,551.3 L448.1,539.8 L474.0,547.4 L499.9,555.8 L525.8,550.0 L551.6,541.1 L577.5,541.1 L603.4,547.4 L629.2,546.9 L655.1,541.8 L681.0,545.8 L706.9,555.9 L732.8,559.0 L758.6,559.5 L784.5,560.0 L810.4,560.3" stroke="#f4f4f4" stroke-width="3.3" fill="none" stroke-opacity="0.95"/>
<path d="M215.2,269.5 L241.1,266.7 L267.0,276.5 L292.9,290.6 L318.8,285.5 L344.6,281.0 L370.5,282.3 L396.4,287.1 L422.2,286.0 L448.1,283.8 L474.0,295.1 L499.9,301.5 L525.8,308.0 L551.6,309.0 L577.5,310.0 L603.4,310.0 L629.2,311.8 L655.1,312.6 L681.0,313.5 L706.9,321.5 L732.8,309.0 L758.6,310.5 L784.5,268.0 L810.4,238.0" stroke="#10dc10" stroke-width="3.4" fill="none"/>
<path d="M215.2,560.3 L241.1,560.3 L267.0,554.0 L292.9,554.0 L318.8,560.3 L344.6,560.3 L370.5,560.3 L396.4,560.3 L422.2,557.4 L448.1,529.8 L474.0,558.0 L499.9,559.0 L525.8,557.4 L551.6,545.0 L577.5,557.0 L603.4,558.0 L629.2,554.0 L655.1,545.8 L681.0,557.0 L706.9,559.0 L732.8,560.3 L758.6,560.3 L784.5,560.3 L810.4,560.3" stroke="#10dc10" stroke-width="3.4" fill="none"/>
<rect x="163.5" y="30.5" width="647" height="530" fill="none" stroke="#dcdcdc" stroke-width="1.1"/>
<path d="M215.2,246.0 L241.1,239.3 L267.0,234.4 L292.9,239.3 L318.8,240.3 L344.6,236.0 L370.5,232.3 L396.4,234.4 L422.2,235.4 L448.1,236.4 L474.0,236.4 L499.9,236.4 L525.8,232.0 L551.6,228.0 L577.5,224.5 L603.4,220.5 L629.2,217.0 L655.1,214.5 L681.0,216.5 L706.9,219.3 L732.8,215.8 L758.6,211.0 L784.5,207.2 L810.4,207.2" stroke="#f04444" stroke-width="3.6" fill="none"/>
<path d="M805.38,547.50 L810.38,547.50 M805.38,533.50 L810.38,533.50 M805.38,520.50 L810.38,520.50 M805.38,507.50 L810.38,507.50 M805.38,494.50 L810.38,494.50 M805.38,480.50 L810.38,480.50 M805.38,467.50 L810.38,467.50 M805.38,454.50 L810.38,454.50 M805.38,441.50 L810.38,441.50 M805.38,427.50 L810.38,427.50 M805.38,414.50 L810.38,414.50 M805.38,401.50 L810.38,401.50 M805.38,388.50 L810.38,388.50 M805.38,374.50 L810.38,374.50 M805.38,361.50 L810.38,361.50 M805.38,348.50 L810.38,348.50 M805.38,335.50 L810.38,335.50 M805.38,321.50 L810.38,321.50 M805.38,308.50 L810.38,308.50 M805.38,295.50 L810.38,295.50 M805.38,282.50 L810.38,282.50 M805.38,268.50 L810.38,268.50 M805.38,255.50 L810.38,255.50 M805.38,242.50 L810.38,242.50 M805.38,229.50 L810.38,229.50 M805.38,215.50 L810.38,215.50 M805.38,202.50 L810.38,202.50 M805.38,189.50 L810.38,189.50 M805.38,176.50 L810.38,176.50 M805.38,162.50 L810.38,162.50 M805.38,149.50 L810.38,149.50 M805.38,136.50 L810.38,136.50 M805.38,123.50 L810.38,123.50 M805.38,109.50 L810.38,109.50 M805.38,96.50 L810.38,96.50 M805.38,83.50 L810.38,83.50 M805.38,70.50 L810.38,70.50 M805.38,56.50 L810.38,56.50 M805.38,43.50 L810.38,43.50" stroke="#e6e6e6" stroke-width="1" fill="none"/>
<text x="144.00" y="16.6" font-size="17" font-weight="bold" fill="#ffffff" textLength="51.79" lengthAdjust="spacingAndGlyphs">Pacsa</text><text x="206.92" y="16.6" font-size="17" font-weight="bold" fill="#ffffff" textLength="40.92" lengthAdjust="spacingAndGlyphs">(HU)</text><text x="258.96" y="16.6" font-size="17" font-weight="bold" fill="#ffffff" textLength="33.34" lengthAdjust="spacingAndGlyphs">850</text><text x="297.86" y="16.6" font-size="17" font-weight="bold" fill="#ffffff" textLength="33.42" lengthAdjust="spacingAndGlyphs">hPa</text><text x="336.84" y="16.6" font-size="17" font-weight="bold" fill="#ffffff" textLength="53.72" lengthAdjust="spacingAndGlyphs">Temp.</text><text x="396.13" y="16.6" font-size="17" font-weight="bold" fill="#ffffff" textLength="13.91" lengthAdjust="spacingAndGlyphs">&amp;</text><text x="415.61" y="16.6" font-size="17" font-weight="bold" fill="#ffffff" textLength="117.78" lengthAdjust="spacingAndGlyphs">Niederschlag</text><text x="538.95" y="16.6" font-size="17" font-weight="bold" fill="#ffffff" textLength="5.83" lengthAdjust="spacingAndGlyphs">|</text><text x="550.35" y="16.6" font-size="17" font-weight="bold" fill="#ffffff" textLength="35.97" lengthAdjust="spacingAndGlyphs">Sat,</text><text x="591.89" y="16.6" font-size="17" font-weight="bold" fill="#ffffff" textLength="94.74" lengthAdjust="spacingAndGlyphs">03Jan2026</text><text x="692.20" y="16.6" font-size="17" font-weight="bold" fill="#ffffff" textLength="33.80" lengthAdjust="spacingAndGlyphs">06Z</text>
<text x="153.6" y="33.0" font-size="11.1" text-anchor="end" font-weight="normal" fill="#ffffff" textLength="13.38" lengthAdjust="spacingAndGlyphs" >15</text>
<text x="153.6" y="91.9" font-size="11.1" text-anchor="end" font-weight="normal" fill="#ffffff" textLength="13.38" lengthAdjust="spacingAndGlyphs" >10</text>
<text x="153.6" y="150.7" font-size="11.1" text-anchor="end" font-weight="normal" fill="#ffffff" textLength="6.69" lengthAdjust="spacingAndGlyphs" >5</text>
<text x="153.6" y="209.6" font-size="11.1" text-anchor="end" font-weight="normal" fill="#ffffff" textLength="6.69" lengthAdjust="spacingAndGlyphs" >0</text>
<text x="153.6" y="268.5" font-size="11.1" text-anchor="end" font-weight="normal" fill="#ffffff" textLength="10.47" lengthAdjust="spacingAndGlyphs" >-5</text>
<text x="153.6" y="327.3" font-size="11.1" text-anchor="end" font-weight="normal" fill="#ffffff" textLength="17.16" lengthAdjust="spacingAndGlyphs" >-10</text>
<text x="153.6" y="386.2" font-size="11.1" text-anchor="end" font-weight="normal" fill="#ffffff" textLength="17.16" lengthAdjust="spacingAndGlyphs" >-15</text>
<text x="153.6" y="445.1" font-size="11.1" text-anchor="end" font-weight="normal" fill="#ffffff" textLength="17.16" lengthAdjust="spacingAndGlyphs" >-20</text>
<text x="153.6" y="503.9" font-size="11.1" text-anchor="end" font-weight="normal" fill="#ffffff" textLength="17.16" lengthAdjust="spacingAndGlyphs" >-25</text>
<text x="153.6" y="562.8" font-size="11.1" text-anchor="end" font-weight="normal" fill="#ffffff" textLength="17.16" lengthAdjust="spacingAndGlyphs" >-30</text>
<text x="817.0" y="563.0" font-size="11.1" text-anchor="start" font-weight="normal" fill="#ffffff" textLength="6.69" lengthAdjust="spacingAndGlyphs" >0</text>
<text x="817.0" y="430.5" font-size="11.1" text-anchor="start" font-weight="normal" fill="#ffffff" textLength="13.38" lengthAdjust="spacingAndGlyphs" >10</text>
<text x="817.0" y="298.1" font-size="11.1" text-anchor="start" font-weight="normal" fill="#ffffff" textLength="13.38" lengthAdjust="spacingAndGlyphs" >20</text>
<text x="817.0" y="165.6" font-size="11.1" text-anchor="start" font-weight="normal" fill="#ffffff" textLength="13.38" lengthAdjust="spacingAndGlyphs" >30</text>
<text x="817.0" y="33.2" font-size="11.1" text-anchor="start" font-weight="normal" fill="#ffffff" textLength="13.38" lengthAdjust="spacingAndGlyphs" >40</text>
<text x="137.00" y="576.9" font-size="11.1" font-weight="normal" fill="#ffffff" textLength="29.56" lengthAdjust="spacingAndGlyphs">03Jan</text><text x="169.91" y="576.9" font-size="11.1" font-weight="normal" fill="#ffffff" textLength="18.89" lengthAdjust="spacingAndGlyphs">00z</text>
<text x="188.75" y="576.9" font-size="11.1" font-weight="normal" fill="#ffffff" textLength="29.56" lengthAdjust="spacingAndGlyphs">03Jan</text><text x="221.66" y="576.9" font-size="11.1" font-weight="normal" fill="#ffffff" textLength="18.89" lengthAdjust="spacingAndGlyphs">12z</text>
<text x="240.50" y="576.9" font-size="11.1" font-weight="normal" fill="#ffffff" textLength="29.56" lengthAdjust="spacingAndGlyphs">04Jan</text><text x="273.41" y="576.9" font-size="11.1" font-weight="normal" fill="#ffffff" textLength="18.89" lengthAdjust="spacingAndGlyphs">00z</text>
<text x="292.25" y="576.9" font-size="11.1" font-weight="normal" fill="#ffffff" textLength="29.56" lengthAdjust="spacingAndGlyphs">04Jan</text><text x="325.16" y="576.9" font-size="11.1" font-weight="normal" fill="#ffffff" textLength="18.89" lengthAdjust="spacingAndGlyphs">12z</text>
<text x="344.00" y="576.9" font-size="11.1" font-weight="normal" fill="#ffffff" textLength="29.56" lengthAdjust="spacingAndGlyphs">05Jan</text><text x="376.91" y="576.9" font-size="11.1" font-weight="normal" fill="#ffffff" textLength="18.89" lengthAdjust="spacingAndGlyphs">00z</text>
<text x="395.75" y="576.9" font-size="11.1" font-weight="normal" fill="#ffffff" textLength="29.56" lengthAdjust="spacingAndGlyphs">05Jan</text><text x="428.66" y="576.9" font-size="11.1" font-weight="normal" fill="#ffffff" textLength="18.89" lengthAdjust="spacingAndGlyphs">12z</text>
<text x="447.50" y="576.9" font-size="11.1" font-weight="normal" fill="#ffffff" textLength="29.56" lengthAdjust="spacingAndGlyphs">06Jan</text><text x="480.41" y="576.9" font-size="11.1" font-weight="normal" fill="#ffffff" textLength="18.89" lengthAdjust="spacingAndGlyphs">00z</text>
<text x="499.25" y="576.9" font-size="11.1" font-weight="normal" fill="#ffffff" textLength="29.56" lengthAdjust="spacingAndGlyphs">06Jan</text><text x="532.16" y="576.9" font-size="11.1" font-weight="normal" fill="#ffffff" textLength="18.89" lengthAdjust="spacingAndGlyphs">12z</text>
<text x="551.00" y="576.9" font-size="11.1" font-weight="normal" fill="#ffffff" textLength="29.56" lengthAdjust="spacingAndGlyphs">07Jan</text><text x="583.91" y="576.9" font-size="11.1" font-weight="normal" fill="#ffffff" textLength="18.89" lengthAdjust="spacingAndGlyphs">00z</text>
<text x="602.75" y="576.9" font-size="11.1" font-weight="normal" fill="#ffffff" textLength="29.56" lengthAdjust="spacingAndGlyphs">07Jan</text><text x="635.66" y="576.9" font-size="11.1" font-weight="normal" fill="#ffffff" textLength="18.89" lengthAdjust="spacingAndGlyphs">12z</text>
<text x="654.50" y="576.9" font-size="11.1" font-weight="normal" fill="#ffffff" textLength="29.56" lengthAdjust="spacingAndGlyphs">08Jan</text><text x="687.41" y="576.9" font-size="11.1" font-weight="normal" fill="#ffffff" textLength="18.89" lengthAdjust="spacingAndGlyphs">00z</text>
<text x="706.25" y="576.9" font-size="11.1" font-weight="normal" fill="#ffffff" textLength="29.56" lengthAdjust="spacingAndGlyphs">08Jan</text><text x="739.16" y="576.9" font-size="11.1" font-weight="normal" fill="#ffffff" textLength="18.89" lengthAdjust="spacingAndGlyphs">12z</text>
<text x="758.00" y="576.9" font-size="11.1" font-weight="normal" fill="#ffffff" textLength="29.56" lengthAdjust="spacingAndGlyphs">09Jan</text><text x="790.91" y="576.9" font-size="11.1" font-weight="normal" fill="#ffffff" textLength="18.89" lengthAdjust="spacingAndGlyphs">00z</text>
<text x="457.49" y="592.9" font-size="11.1" font-weight="normal" fill="#ffffff" textLength="25.08" lengthAdjust="spacingAndGlyphs">Date</text><text x="485.91" y="592.9" font-size="11.1" font-weight="normal" fill="#ffffff" textLength="29.00" lengthAdjust="spacingAndGlyphs">(UTC)</text>
<g transform="translate(134.6,296) rotate(-90)"><text x="-50.57" y="0" font-size="11.1" font-weight="normal" fill="#ffffff" textLength="20.06" lengthAdjust="spacingAndGlyphs">850</text><text x="-27.16" y="0" font-size="11.1" font-weight="normal" fill="#ffffff" textLength="18.95" lengthAdjust="spacingAndGlyphs">hPa</text><text x="-4.87" y="0" font-size="11.1" font-weight="normal" fill="#ffffff" textLength="31.33" lengthAdjust="spacingAndGlyphs">Temp.</text><text x="29.81" y="0" font-size="11.1" font-weight="normal" fill="#ffffff" textLength="20.77" lengthAdjust="spacingAndGlyphs">(°C)</text></g>
<g transform="translate(844.3,296.5) rotate(-90)"><text x="-50.30" y="0" font-size="11.1" font-weight="normal" fill="#ffffff" textLength="68.59" lengthAdjust="spacingAndGlyphs">Niederschlag</text><text x="21.64" y="0" font-size="11.1" font-weight="normal" fill="#ffffff" textLength="28.66" lengthAdjust="spacingAndGlyphs">(mm)</text></g>
<text x="119.50" y="603.8" font-size="17" font-weight="normal" fill="#eeeeee" textLength="60.03" lengthAdjust="spacingAndGlyphs">ECMWF</text><text x="184.62" y="603.8" font-size="17" font-weight="normal" fill="#eeeeee" textLength="83.45" lengthAdjust="spacingAndGlyphs">Ensemble,</text><text x="273.16" y="603.8" font-size="17" font-weight="normal" fill="#eeeeee" textLength="62.82" lengthAdjust="spacingAndGlyphs">46.75N,</text><text x="341.06" y="603.8" font-size="17" font-weight="normal" fill="#eeeeee" textLength="30.43" lengthAdjust="spacingAndGlyphs">17E</text>
<text x="650.00" y="604" font-size="17" font-weight="normal" fill="#eeeeee" textLength="143.50" lengthAdjust="spacingAndGlyphs">Wetterzentrale.de</text>
<path d="M0,40.7 L7.7,40.7" stroke="#0a28d0" stroke-width="2" fill="none"/>
<text x="8.7" y="42.9" font-size="11.1" text-anchor="start" font-weight="normal" fill="#ffffff" textLength="13.02" lengthAdjust="spacingAndGlyphs" >P1</text>
<path d="M53.2,40.7 L64.0,40.7" stroke="#1560d0" stroke-width="2" fill="none"/>
<text x="64.5" y="42.9" font-size="11.1" text-anchor="start" font-weight="normal" fill="#ffffff" textLength="13.02" lengthAdjust="spacingAndGlyphs" >P2</text>
<path d="M0,55.7 L7.7,55.7" stroke="#1878c8" stroke-width="2" fill="none"/>
<text x="8.7" y="57.9" font-size="11.1" text-anchor="start" font-weight="normal" fill="#ffffff" textLength="13.02" lengthAdjust="spacingAndGlyphs" >P3</text>
<path d="M53.2,55.7 L64.0,55.7" stroke="#10a0d0" stroke-width="2" fill="none"/>
<text x="64.5" y="57.9" font-size="11.1" text-anchor="start" font-weight="normal" fill="#ffffff" textLength="13.02" lengthAdjust="spacingAndGlyphs" >P4</text>
<path d="M0,70.7 L7.7,70.7" stroke="#10b0c8" stroke-width="2" fill="none"/>
<text x="8.7" y="72.9" font-size="11.1" text-anchor="start" font-weight="normal" fill="#ffffff" textLength="13.02" lengthAdjust="spacingAndGlyphs" >P5</text>
<path d="M53.2,70.7 L64.0,70.7" stroke="#10b088" stroke-width="2" fill="none"/>
<text x="64.5" y="72.9" font-size="11.1" text-anchor="start" font-weight="normal" fill="#ffffff" textLength="13.02" lengthAdjust="spacingAndGlyphs" >P6</text>
<path d="M0,85.7 L7.7,85.7" stroke="#10b070" stroke-width="2" fill="none"/>
<text x="8.7" y="87.9" font-size="11.1" text-anchor="start" font-weight="normal" fill="#ffffff" textLength="13.02" lengthAdjust="spacingAndGlyphs" >P7</text>
<path d="M53.2,85.7 L64.0,85.7" stroke="#10b840" stroke-width="2" fill="none"/>
<text x="64.5" y="87.9" font-size="11.1" text-anchor="start" font-weight="normal" fill="#ffffff" textLength="13.02" lengthAdjust="spacingAndGlyphs" >P8</text>
<path d="M0,100.7 L7.7,100.7" stroke="#10c030" stroke-width="2" fill="none"/>
<text x="8.7" y="102.9" font-size="11.1" text-anchor="start" font-weight="normal" fill="#ffffff" textLength="13.02" lengthAdjust="spacingAndGlyphs" >P9</text>
<path d="M53.2,100.7 L64.0,100.7" stroke="#10c810" stroke-width="2" fill="none"/>
<text x="64.5" y="102.9" font-size="11.1" text-anchor="start" font-weight="normal" fill="#ffffff" textLength="19.7" lengthAdjust="spacingAndGlyphs" >P10</text>
<path d="M0,115.7 L7.7,115.7" stroke="#c8c010" stroke-width="2" fill="none"/>
<text x="8.7" y="117.9" font-size="11.1" text-anchor="start" font-weight="normal" fill="#ffffff" textLength="19.7" lengthAdjust="spacingAndGlyphs" >P11</text>
<path d="M53.2,115.7 L64.0,115.7" stroke="#c8b010" stroke-width="2" fill="none"/>
<text x="64.5" y="117.9" font-size="11.1" text-anchor="start" font-weight="normal" fill="#ffffff" textLength="19.7" lengthAdjust="spacingAndGlyphs" >P12</text>
<path d="M0,130.7 L7.7,130.7" stroke="#c8a010" stroke-width="2" fill="none"/>
<text x="8.7" y="132.9" font-size="11.1" text-anchor="start" font-weight="normal" fill="#ffffff" textLength="19.7" lengthAdjust="spacingAndGlyphs" >P13</text>
<path d="M53.2,130.7 L64.0,130.7" stroke="#c89010" stroke-width="2" fill="none"/>
<text x="64.5" y="132.9" font-size="11.1" text-anchor="start" font-weight="normal" fill="#ffffff" textLength="19.7" lengthAdjust="spacingAndGlyphs" >P14</text>
<path d="M0,145.7 L7.7,145.7" stroke="#c88010" stroke-width="2" fill="none"/>
<text x="8.7" y="147.9" font-size="11.1" text-anchor="start" font-weight="normal" fill="#ffffff" textLength="19.7" lengthAdjust="spacingAndGlyphs" >P15</text>
<path d="M53.2,145.7 L64.0,145.7" stroke="#c87010" stroke-width="2" fill="none"/>
<text x="64.5" y="147.9" font-size="11.1" text-anchor="start" font-weight="normal" fill="#ffffff" textLength="19.7" lengthAdjust="spacingAndGlyphs" >P16</text>
<path d="M0,160.7 L7.7,160.7" stroke="#c85a10" stroke-width="2" fill="none"/>
<text x="8.7" y="162.9" font-size="11.1" text-anchor="start" font-weight="normal" fill="#ffffff" textLength="19.7" lengthAdjust="spacingAndGlyphs" >P17</text>
<path d="M53.2,160.7 L64.0,160.7" stroke="#c04a20" stroke-width="2" fill="none"/>
<text x="64.5" y="162.9" font-size="11.1" text-anchor="start" font-weight="normal" fill="#ffffff" textLength="19.7" lengthAdjust="spacingAndGlyphs" >P18</text>
<path d="M0,175.7 L7.7,175.7" stroke="#b83030" stroke-width="2" fill="none"/>
<text x="8.7" y="177.9" font-size="11.1" text-anchor="start" font-weight="normal" fill="#ffffff" textLength="19.7" lengthAdjust="spacingAndGlyphs" >P19</text>
<path d="M53.2,175.7 L64.0,175.7" stroke="#a82020" stroke-width="2" fill="none"/>
<text x="64.5" y="177.9" font-size="11.1" text-anchor="start" font-weight="normal" fill="#ffffff" textLength="19.7" lengthAdjust="spacingAndGlyphs" >P20</text>
<path d="M0,190.7 L7.7,190.7" stroke="#0a28d0" stroke-width="2" fill="none"/>
<text x="8.7" y="192.9" font-size="11.1" text-anchor="start" font-weight="normal" fill="#ffffff" textLength="19.7" lengthAdjust="spacingAndGlyphs" >P21</text>
<path d="M53.2,190.7 L64.0,190.7" stroke="#1560d0" stroke-width="2" fill="none"/>
<text x="64.5" y="192.9" font-size="11.1" text-anchor="start" font-weight="normal" fill="#ffffff" textLength="19.7" lengthAdjust="spacingAndGlyphs" >P22</text>
<path d="M0,205.7 L7.7,205.7" stroke="#1878c8" stroke-width="2" fill="none"/>
<text x="8.7" y="207.9" font-size="11.1" text-anchor="start" font-weight="normal" fill="#ffffff" textLength="19.7" lengthAdjust="spacingAndGlyphs" >P23</text>
<path d="M53.2,205.7 L64.0,205.7" stroke="#10a0d0" stroke-width="2" fill="none"/>
<text x="64.5" y="207.9" font-size="11.1" text-anchor="start" font-weight="normal" fill="#ffffff" textLength="19.7" lengthAdjust="spacingAndGlyphs" >P24</text>
<path d="M0,220.7 L7.7,220.7" stroke="#10b0c8" stroke-width="2" fill="none"/>
<text x="8.7" y="222.9" font-size="11.1" text-anchor="start" font-weight="normal" fill="#ffffff" textLength="19.7" lengthAdjust="spacingAndGlyphs" >P25</text>
<path d="M53.2,220.7 L64.0,220.7" stroke="#10b088" stroke-width="2" fill="none"/>
<text x="64.5" y="222.9" font-size="11.1" text-anchor="start" font-weight="normal" fill="#ffffff" textLength="19.7" lengthAdjust="spacingAndGlyphs" >P26</text>
<path d="M0,235.7 L7.7,235.7" stroke="#10b070" stroke-width="2" fill="none"/>
<text x="8.7" y="237.9" font-size="11.1" text-anchor="start" font-weight="normal" fill="#ffffff" textLength="19.7" lengthAdjust="spacingAndGlyphs" >P27</text>
<path d="M53.2,235.7 L64.0,235.7" stroke="#10b840" stroke-width="2" fill="none"/>
<text x="64.5" y="237.9" font-size="11.1" text-anchor="start" font-weight="normal" fill="#ffffff" textLength="19.7" lengthAdjust="spacingAndGlyphs" >P28</text>
<path d="M0,250.7 L7.7,250.7" stroke="#10c030" stroke-width="2" fill="none"/>
<text x="8.7" y="252.9" font-size="11.1" text-anchor="start" font-weight="normal" fill="#ffffff" textLength="19.7" lengthAdjust="spacingAndGlyphs" >P29</text>
<path d="M53.2,250.7 L64.0,250.7" stroke="#10c810" stroke-width="2" fill="none"/>
<text x="64.5" y="252.9" font-size="11.1" text-anchor="start" font-weight="normal" fill="#ffffff" textLength="19.7" lengthAdjust="spacingAndGlyphs" >P30</text>
<path d="M0,265.7 L7.7,265.7" stroke="#c8c010" stroke-width="2" fill="none"/>
<text x="8.7" y="267.9" font-size="11.1" text-anchor="start" font-weight="normal" fill="#ffffff" textLength="19.7" lengthAdjust="spacingAndGlyphs" >P31</text>
<path d="M53.2,265.7 L64.0,265.7" stroke="#c8b010" stroke-width="2" fill="none"/>
<text x="64.5" y="267.9" font-size="11.1" text-anchor="start" font-weight="normal" fill="#ffffff" textLength="19.7" lengthAdjust="spacingAndGlyphs" >P32</text>
<path d="M0,280.7 L7.7,280.7" stroke="#c8a010" stroke-width="2" fill="none"/>
<text x="8.7" y="282.9" font-size="11.1" text-anchor="start" font-weight="normal" fill="#ffffff" textLength="19.7" lengthAdjust="spacingAndGlyphs" >P33</text>
<path d="M53.2,280.7 L64.0,280.7" stroke="#c89010" stroke-width="2" fill="none"/>
<text x="64.5" y="282.9" font-size="11.1" text-anchor="start" font-weight="normal" fill="#ffffff" textLength="19.7" lengthAdjust="spacingAndGlyphs" >P34</text>
<path d="M0,295.7 L7.7,295.7" stroke="#c88010" stroke-width="2" fill="none"/>
<text x="8.7" y="297.9" font-size="11.1" text-anchor="start" font-weight="normal" fill="#ffffff" textLength="19.7" lengthAdjust="spacingAndGlyphs" >P35</text>
<path d="M53.2,295.7 L64.0,295.7" stroke="#c87010" stroke-width="2" fill="none"/>
<text x="64.5" y="297.9" font-size="11.1" text-anchor="start" font-weight="normal" fill="#ffffff" textLength="19.7" lengthAdjust="spacingAndGlyphs" >P36</text>
<path d="M0,310.7 L7.7,310.7" stroke="#c85a10" stroke-width="2" fill="none"/>
<text x="8.7" y="312.9" font-size="11.1" text-anchor="start" font-weight="normal" fill="#ffffff" textLength="19.7" lengthAdjust="spacingAndGlyphs" >P37</text>
<path d="M53.2,310.7 L64.0,310.7" stroke="#c04a20" stroke-width="2" fill="none"/>
<text x="64.5" y="312.9" font-size="11.1" text-anchor="start" font-weight="normal" fill="#ffffff" textLength="19.7" lengthAdjust="spacingAndGlyphs" >P38</text>
<path d="M0,325.7 L7.7,325.7" stroke="#b83030" stroke-width="2" fill="none"/>
<text x="8.7" y="327.9" font-size="11.1" text-anchor="start" font-weight="normal" fill="#ffffff" textLength="19.7" lengthAdjust="spacingAndGlyphs" >P39</text>
<path d="M53.2,325.7 L64.0,325.7" stroke="#a82020" stroke-width="2" fill="none"/>
<text x="64.5" y="327.9" font-size="11.1" text-anchor="start" font-weight="normal" fill="#ffffff" textLength="19.7" lengthAdjust="spacingAndGlyphs" >P40</text>
<path d="M0,340.7 L7.7,340.7" stroke="#0a28d0" stroke-width="2" fill="none"/>
<text x="8.7" y="342.9" font-size="11.1" text-anchor="start" font-weight="normal" fill="#ffffff" textLength="19.7" lengthAdjust="spacingAndGlyphs" >P41</text>
<path d="M53.2,340.7 L64.0,340.7" stroke="#1560d0" stroke-width="2" fill="none"/>
<text x="64.5" y="342.9" font-size="11.1" text-anchor="start" font-weight="normal" fill="#ffffff" textLength="19.7" lengthAdjust="spacingAndGlyphs" >P42</text>
<path d="M0,355.7 L7.7,355.7" stroke="#1878c8" stroke-width="2" fill="none"/>
<text x="8.7" y="357.9" font-size="11.1" text-anchor="start" font-weight="normal" fill="#ffffff" textLength="19.7" lengthAdjust="spacingAndGlyphs" >P43</text>
<path d="M53.2,355.7 L64.0,355.7" stroke="#10a0d0" stroke-width="2" fill="none"/>
<text x="64.5" y="357.9" font-size="11.1" text-anchor="start" font-weight="normal" fill="#ffffff" textLength="19.7" lengthAdjust="spacingAndGlyphs" >P44</text>
<path d="M0,370.7 L7.7,370.7" stroke="#10b0c8" stroke-width="2" fill="none"/>
<text x="8.7" y="372.9" font-size="11.1" text-anchor="start" font-weight="normal" fill="#ffffff" textLength="19.7" lengthAdjust="spacingAndGlyphs" >P45</text>
<path d="M53.2,370.7 L64.0,370.7" stroke="#10b088" stroke-width="2" fill="none"/>
<text x="64.5" y="372.9" font-size="11.1" text-anchor="start" font-weight="normal" fill="#ffffff" textLength="19.7" lengthAdjust="spacingAndGlyphs" >P46</text>
<path d="M0,385.7 L7.7,385.7" stroke="#10b070" stroke-width="2" fill="none"/>
<text x="8.7" y="387.9" font-size="11.1" text-anchor="start" font-weight="normal" fill="#ffffff" textLength="19.7" lengthAdjust="spacingAndGlyphs" >P47</text>
<path d="M53.2,385.7 L64.0,385.7" stroke="#10b840" stroke-width="2" fill="none"/>
<text x="64.5" y="387.9" font-size="11.1" text-anchor="start" font-weight="normal" fill="#ffffff" textLength="19.7" lengthAdjust="spacingAndGlyphs" >P48</text>
<path d="M0,400.7 L7.7,400.7" stroke="#10c030" stroke-width="2" fill="none"/>
<text x="8.7" y="402.9" font-size="11.1" text-anchor="start" font-weight="normal" fill="#ffffff" textLength="19.7" lengthAdjust="spacingAndGlyphs" >P49</text>
<path d="M53.2,400.7 L64.0,400.7" stroke="#10c810" stroke-width="2" fill="none"/>
<text x="64.5" y="402.9" font-size="11.1" text-anchor="start" font-weight="normal" fill="#ffffff" textLength="19.7" lengthAdjust="spacingAndGlyphs" >P50</text>
<path d="M0,416.2 L7.7,416.2" stroke="#1414f0" stroke-width="2" fill="none"/>
<text x="8.4" y="419" font-size="11.1" text-anchor="start" font-weight="normal" fill="#ffffff" textLength="37.94" lengthAdjust="spacingAndGlyphs" >Control</text>
<path d="M53.2,416.4 L63.8,416.4" stroke="#f4f4f4" stroke-width="3" fill="none"/>
<text x="64.30" y="419" font-size="11.1" font-weight="normal" fill="#ffffff" textLength="22.11" lengthAdjust="spacingAndGlyphs">Ens.</text><text x="89.75" y="419" font-size="11.1" font-weight="normal" fill="#ffffff" textLength="29.78" lengthAdjust="spacingAndGlyphs">mean</text>
<path d="M53.2,442.7 L63.8,442.7" stroke="#f04444" stroke-width="3" fill="none"/>
<text x="64.3" y="447" font-size="11.1" text-anchor="start" font-weight="normal" fill="#ffffff" textLength="57.28" lengthAdjust="spacingAndGlyphs" >1991-2020</text>
<text x="64.3" y="456.5" font-size="11.1" text-anchor="start" font-weight="normal" fill="#ffffff" textLength="29.78" lengthAdjust="spacingAndGlyphs" >mean</text>
<path d="M0,456.5 L7.7,456.5" stroke="#14e014" stroke-width="2" fill="none"/>
<text x="8.4" y="458.8" font-size="11.1" text-anchor="start" font-weight="normal" fill="#ffffff" textLength="25.7" lengthAdjust="spacingAndGlyphs" >Oper</text>
</svg>
</body></html>
